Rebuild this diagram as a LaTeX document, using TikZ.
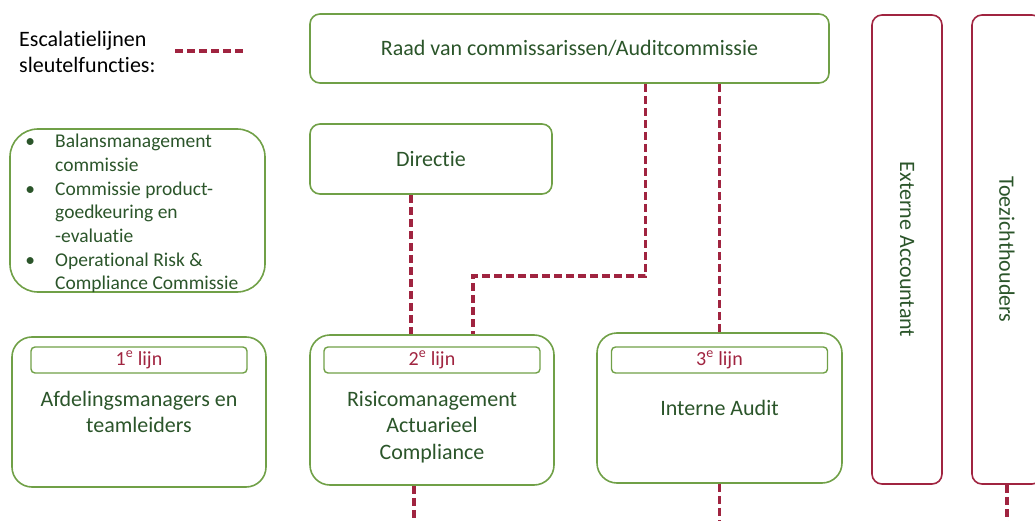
\documentclass[tikz,border=0pt]{standalone}
\usepackage{fontspec}
\setmainfont[Ligatures=NoCommon]{Carlito}
\usepackage{graphicx}
\usetikzlibrary{positioning}

\definecolor{lijngroen}{HTML}{70A047}
\definecolor{tekstgroen}{HTML}{2B552A}
\definecolor{escrood}{HTML}{A02440}

\begin{document}
\begin{tikzpicture}[x=1pt, y=-1pt,
    box/.style={draw=lijngroen, line width=1.6pt, rounded corners=10pt, text=tekstgroen,
      font=\fontsize{22}{26.5}\selectfont, align=center, inner sep=0pt},
    tag/.style={draw=lijngroen, line width=1.4pt, rounded corners=4pt, minimum width=216pt,
      minimum height=26pt, text=escrood, font=\fontsize{20}{22}\selectfont, inner sep=0pt},
    boxtekst/.style={text=tekstgroen, font=\fontsize{22}{26.5}\selectfont, align=center, inner sep=0pt},
    extern/.style={draw=escrood, line width=1.6pt, rounded corners=10pt, minimum width=70pt,
      minimum height=469pt, text=tekstgroen, font=\fontsize{22}{25}\selectfont, inner sep=0pt},
    esc/.style={draw=escrood, line width=3.4pt, dash pattern=on 8pt off 4pt}]

  \useasboundingbox (0,0) rectangle (1035,521);

  % legenda
  \node[anchor=west, align=left, inner sep=0pt, font=\fontsize{22}{26.5}\selectfont] (legenda) at (19,52) {Escalatielijnen\\sleutelfuncties:};
  \coordinate (escbegin) at (175,51);
  \coordinate (esceind) at (246,51);
  \draw[esc] (escbegin) -- (esceind);

  % bestuur
  \node[box, minimum width=519pt, minimum height=69pt] (raad) at (569.5,48.5) {Raad van commissarissen/Auditcommissie};
  \node[box, minimum width=242pt, minimum height=70pt] (directie) at (431,159) {Directie};

  \node[box, rounded corners=28pt, minimum width=255pt, minimum height=163pt] (commissies) at (137.5,210.5) {};
  \node[anchor=west, inner sep=0pt, text=tekstgroen, font=\fontsize{19.5}{23.7}\selectfont] (lijst) at (20,214) {%
    \begin{tabular}{@{}c@{\hspace{15pt}}l@{}}
      \makebox[20pt]{\textbullet} & Balansmanagement\\
       & commissie\\
      \makebox[20pt]{\textbullet} & Commissie product-\\
       & goedkeuring en\\
       & -evaluatie\\
      \makebox[20pt]{\textbullet} & Operational Risk \&\\
       & Compliance Commissie
    \end{tabular}};

  % drie lijnen
  \node[box, rounded corners=20pt, minimum width=254pt, minimum height=150pt] (een) at (139,412) {Afdelingsmanagers en\\teamleiders};
  \node[box, rounded corners=20pt, minimum width=244pt, minimum height=150pt] (twee) at (432,410) {};
  \node[box, rounded corners=20pt, minimum width=245pt, minimum height=150pt] (drie) at (719.5,408) {Interne Audit};

  \node[tag] (eentag) at (een.center |- 0,360) {1\textsuperscript{e} lijn};
  \node[tag] (tweetag) at (twee.center |- 0,360) {2\textsuperscript{e} lijn};
  \node[tag] (drietag) at (drie.center |- 0,360) {3\textsuperscript{e} lijn};
  \node[boxtekst, below=17pt of tweetag] (tweetekst) {Risicomanagement\\Actuarieel\\Compliance};

  % extern
  \node[extern] (extacc) at (907,249.5) {\rotatebox{-90}{Externe Accountant}};
  \node[extern] (toezicht) at (1007,249.5) {\rotatebox{-90}{Toezichthouders}};

  % escalatielijnen
  \coordinate (dirUit) at ([xshift=-20pt]directie.south);
  \coordinate (raadUit) at ([xshift=76pt]raad.south);
  \coordinate (tweeIn) at ([xshift=41pt]twee.north);
  \coordinate (tweeUit) at ([xshift=-18pt]twee.south);

  \draw[esc] (dirUit) -- (dirUit |- twee.north);
  \draw[esc] (raadUit) -- ++(0,192) -| (tweeIn);
  \draw[esc] (drie.north |- raad.south) -- (drie.north);
  \draw[esc] (tweeUit) -- (tweeUit |- 0,530);
  \draw[esc] (drie.south) -- (drie.south |- 0,530);
  \draw[esc] (toezicht.south) -- (toezicht.south |- 0,530);

\end{tikzpicture}
\end{document}
